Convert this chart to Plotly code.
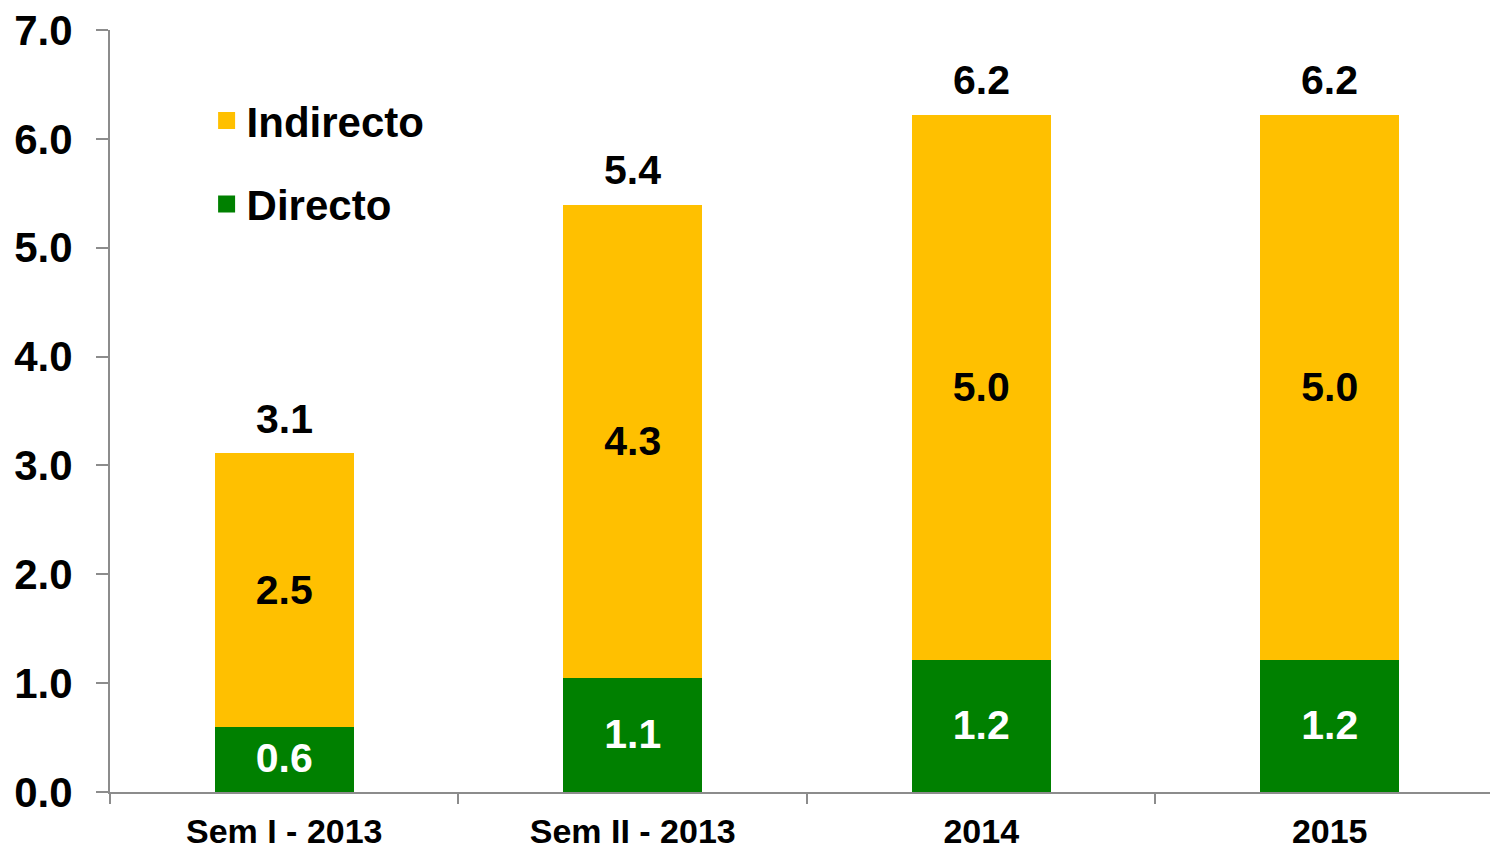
import plotly.graph_objects as go

categories = ["Sem I - 2013", "Sem II - 2013", "2014", "2015"]
directo = [0.62, 1.07, 1.24, 1.24]
indirecto = [2.47, 4.30, 4.96, 4.96]
totals = [3.1, 5.4, 6.2, 6.2]
y_ticks = [0, 1, 2, 3, 4, 5, 6, 7]

FONT = "Liberation Sans, Arial, sans-serif"
YELLOW = "#FFC000"
GREEN = "#008000"
AXIS = "#8c8c8c"
LW = 5  # outline in the bar colour, also enlarges the legend squares
BAR_W = 0.4 - LW / 348.5

fig = go.Figure()
fig.add_trace(go.Bar(
    x=categories, y=directo, name="Directo",
    marker=dict(color=GREEN, line=dict(width=LW, color=GREEN)),
    text=directo, texttemplate="%{y:.1f}", textposition="inside",
    insidetextanchor="middle", constraintext="none",
    textfont=dict(color="white", size=41, family=FONT, weight="bold"),
    legendgroup="d", legendrank=2, width=BAR_W,
))
fig.add_trace(go.Bar(
    x=categories, y=indirecto, name="Indirecto",
    marker=dict(color=YELLOW, line=dict(width=LW, color=YELLOW)),
    text=indirecto, texttemplate="%{y:.1f}", textposition="inside",
    insidetextanchor="middle", constraintext="none",
    textfont=dict(color="black", size=41, family=FONT, weight="bold"),
    legendgroup="i", legendrank=1, width=BAR_W,
))

for idx, (t, d, i) in enumerate(zip(totals, directo, indirecto)):
    fig.add_annotation(
        x=idx, y=d + i, text=f"{t:.1f}", showarrow=False,
        xref="x", yref="y",
        yanchor="bottom", yshift=12,
        font=dict(size=41, color="black", family=FONT, weight="bold"),
    )

fig.update_layout(
    barmode="stack",
    width=1491, height=850,
    margin=dict(l=110, r=1, t=30, b=58),
    paper_bgcolor="white", plot_bgcolor="white",
    font=dict(family=FONT, color="black", weight="bold"),
    showlegend=True,
    legend=dict(
        x=0.07, y=0.826, xanchor="left", yanchor="middle",
        traceorder="grouped", tracegroupgap=26,
        font=dict(size=42, family=FONT, color="black", weight="bold"),
        bgcolor="rgba(0,0,0,0)",
    ),
    xaxis=dict(
        type="category", automargin=False,
        range=[-0.5, 3.46], showgrid=False, zeroline=False,
        showline=True, linecolor=AXIS, linewidth=2,
        ticks="outside", tickson="boundaries", ticklen=10,
        tickcolor=AXIS, tickwidth=1.5,
        tickfont=dict(size=34, family=FONT, color="black", weight="bold"),
        ticklabelstandoff=8,
    ),
    yaxis=dict(
        automargin=False,
        range=[0, 7], tickvals=y_ticks, tickformat=".1f",
        showgrid=False, zeroline=False,
        showline=True, linecolor=AXIS, linewidth=2,
        ticks="outside", ticklen=12, tickcolor=AXIS, tickwidth=1.5,
        tickfont=dict(size=42, family=FONT, color="black", weight="bold"),
        ticklabelstandoff=15,
    ),
)

fig.write_html(
    "out.html",
    config={"displayModeBar": False},
    post_script="document.body.style.margin='0';",
)
